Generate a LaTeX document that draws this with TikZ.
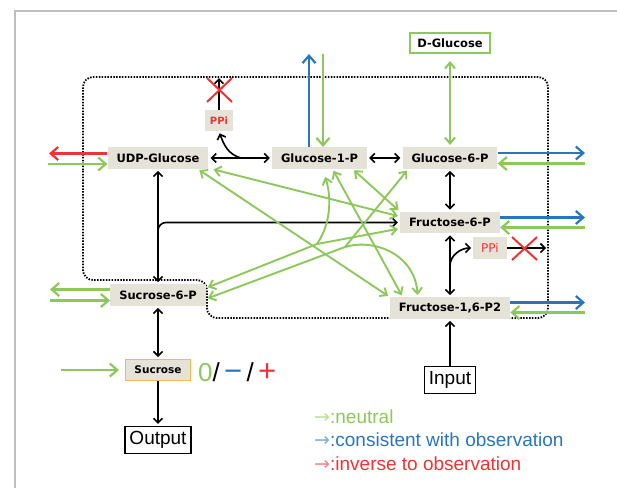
\documentclass[tikz,border=0pt]{standalone}
\usepackage{fontspec}
\newfontfamily\boxfont{DejaVu Sans}
\newfontfamily\labfont{Liberation Sans}
\usetikzlibrary{arrows.meta}
\definecolor{grn}{RGB}{140,200,90}
\definecolor{blu}{RGB}{40,118,190}
\definecolor{rd}{RGB}{236,52,52}
\definecolor{boxgray}{RGB}{229,226,216}
\definecolor{sucorange}{RGB}{246,186,80}
\definecolor{framegray}{RGB}{190,190,190}
\tikzset{
    tipS/.tip={Straight Barb[length=4.5pt,width=9pt]},
    tipM/.tip={Straight Barb[length=6pt,width=10pt]},
    tipL/.tip={Straight Barb[length=7.5pt,width=13pt]},
}
\tikzset{
    blk/.style={draw=black, line width=1.6pt, shorten >=2pt},
    blkboth/.style={blk, shorten <=2pt, tipS-tipS},
    blkone/.style={blk, -tipS},
    sidearr/.style={line width=2.2pt, -tipL},
    gside/.style={sidearr, draw=grn},
    bside/.style={sidearr, draw=blu},
    rside/.style={sidearr, draw=rd},
    gboth/.style={draw=grn, line width=1.9pt, tipM-tipM, shorten >=2pt, shorten <=2pt},
    gone/.style={draw=grn, line width=1.9pt, -tipM, shorten >=2pt},
    xmark/.style={draw=rd, line width=2pt},
}
\tikzset{
    met/.style={fill=boxgray, inner xsep=9pt, inner ysep=0pt, minimum height=21.5pt,
        font=\boxfont\bfseries\fontsize{11.5}{13}\selectfont},
    ppi/.style={fill=boxgray, text=rd, inner ysep=0pt, minimum height=21.5pt},
    io/.style={draw=black, line width=1.2pt, fill=white, inner xsep=4.5pt, inner ysep=0pt,
        minimum height=27pt, font=\labfont\fontsize{19}{21}\selectfont},
    legtext/.style={anchor=base west, inner sep=0pt, font=\labfont\fontsize{19}{22}\selectfont},
}
\begin{document}
\begin{tikzpicture}[x=1pt,y=1pt]
    \useasboundingbox (0,0) rectangle (617,-488);
    \draw[framegray, line width=1.2pt] (15,-488) -- (15,-11) -- (617,-11);
    % compartment
    \draw[line width=1.8pt, dash pattern=on 1.5pt off 1.4pt, rounded corners=10pt]
        (83,-180) -- (83,-77) -- (548,-77) -- (548,-318) -- (207,-318) -- (207,-280) -- (83,-280) -- cycle;
    \node[met] (udp) at (158,-158) {UDP-Glucose};
    \node[met] (g1p) at (319.5,-158) {Glucose-1-P};
    \node[met] (g6p) at (450,-158) {Glucose-6-P};
    \node[met] (f6p) at (450,-222.5) {Fructose-6-P};
    \node[met] (fbp) at (450,-308) {Fructose-1,6-P2};
    \node[met] (s6p) at (158,-295) {Sucrose-6-P};
    \node[ppi, inner xsep=5pt, font=\boxfont\bfseries\fontsize{10}{12}\selectfont] (ppa) at (219,-120.5) {PPi};
    \node[ppi, inner xsep=8pt, font=\boxfont\fontsize{12}{14}\selectfont] (ppb) at (490,-248) {PPi};
    \node[met, fill=white, draw=grn, line width=2pt, inner xsep=7.5pt, minimum height=20pt] (dglc) at (450,-43) {D-Glucose};
    \node[met, draw=sucorange, line width=1pt, minimum height=21pt,
        font=\boxfont\bfseries\fontsize{10.5}{12}\selectfont] (suc) at (158,-370) {Sucrose};
    \node[io] (inp) at (450,-380) {Input};
    \node[io] (outp) at (158,-440) {Output};
    \node[anchor=base west, inner sep=0pt, font=\labfont\fontsize{26}{28}\selectfont] (sgn) at (198,-381)
        {{\color{grn}0}/\,{\color{blu}\fontsize{31}{31}\selectfont −}\,/\,{\color{rd}\fontsize{31}{31}\selectfont +}};
    % branch points
    \coordinate (m1) at (241,-158);
    \coordinate (m2) at (450,-266);
    \coordinate (m3) at (158,-236);
    \coordinate (j1) at (317,-244);
    \coordinate (j2) at (345,-247);
    \coordinate (ppaT) at (219,-76);
    \coordinate (ppbR) at (548,-248);
    \coordinate (xa) at (219.5,-90);
    \coordinate (xb) at (524.5,-248.5);
    % free ends
    \coordinate (udpL1) at (49,-153.5);
    \coordinate (udpL2) at (48,-164);
    \coordinate (s6pL1) at (50,-289.5);
    \coordinate (s6pL2) at (50,-300.5);
    \coordinate (sucL) at (61,-370);
    \coordinate (g6pR1) at (585,-153);
    \coordinate (g6pR2) at (585,-163.5);
    \coordinate (f6pR1) at (585,-217.5);
    \coordinate (f6pR2) at (585,-227.5);
    \coordinate (fbpR1) at (585,-302.5);
    \coordinate (fbpR2) at (585,-312.5);
    \coordinate (g1pT1) at (309,-54);
    \coordinate (g1pT2) at (323,-54);
    % black reactions
    \draw[blkboth] (udp) -- (g1p);
    \draw[blkone] (m1) to[out=165,in=-70] (ppa.south);
    \draw[blkone] (ppa) -- (ppaT);
    \draw[blkboth] (g1p) -- (g6p);
    \draw[blkboth] (g6p) -- (f6p);
    \draw[blkboth] (f6p) -- (fbp);
    \draw[blkone] (m2) to[out=90,in=180] (ppb.west);
    \draw[blkone] (ppb) -- (ppbR);
    \draw[blkboth] (udp) -- (s6p);
    \draw[blkone, rounded corners=8pt] (m3) |- (f6p.west);
    \draw[blkboth] (s6p) -- (suc);
    \draw[blkone] (suc) -- (outp);
    \draw[blkone] (inp) -- (fbp);
    \draw[xmark] (xa) +(-12.5,12) -- +(12.5,-12) (xa) +(-12.5,-12) -- +(12.5,12);
    \draw[xmark] (xb) +(-12.5,11.5) -- +(12.5,-11.5) (xb) +(-12.5,-11.5) -- +(12.5,11.5);
    % exchange fluxes
    \draw[rside] (udp.west |- udpL1) -- (udpL1);
    \draw[gside] (udpL2) -- (udp.west |- udpL2);
    \draw[gside] (s6p.west |- s6pL1) -- (s6pL1);
    \draw[gside] (s6pL2) -- (s6p.west |- s6pL2);
    \draw[gside, shorten >=6pt] (sucL) -- (suc.west);
    \draw[bside] (g6p.east |- g6pR1) -- (g6pR1);
    \draw[gside] (g6pR2) -- (g6p.east |- g6pR2);
    \draw[bside] (f6p.east |- f6pR1) -- (f6pR1);
    \draw[gside] (f6pR2) -- (f6p.east |- f6pR2);
    \draw[bside] (fbp.east |- fbpR1) -- (fbpR1);
    \draw[gside] (fbpR2) -- (fbp.east |- fbpR2);
    \draw[bside] (g1pT1 |- g1p.north) -- (g1pT1);
    \draw[gside] (g1pT2) -- (g1pT2 |- g1p.north);
    \draw[gboth, line width=2pt, shorten <=7pt] (dglc) -- (g6p);
    % green reactions
    \draw[gboth] ([xshift=3pt]udp.south east) -- ([yshift=6pt]f6p.west);
    \draw[gboth] ([xshift=-11pt]udp.south east) -- (fbp.north west);
    \draw[gboth] ([xshift=13pt]g1p.south) -- ([xshift=13pt]fbp.north west);
    \draw[gboth] ([xshift=33pt]g1p.south) -- (f6p.north west);
    \draw[gboth] ([yshift=7pt]s6p.east) -- (j1) -- ([yshift=-6pt]f6p.west);
    \draw[gone] (j1) .. controls (332,-222) and (331,-195) .. ([xshift=5pt,yshift=-6pt]g1p.south);
    \draw[gboth] ([yshift=-4pt]s6p.east) -- (j2) -- ([xshift=6pt]g6p.south west);
    \draw[gone] (j2) .. controls (375,-238) and (415,-255) .. ([xshift=28pt]fbp.north west);
    % legend
    \node[legtext, text=grn] (lg1) at (314,-423) {{\boxfont\color{grn!60!white}→}:neutral};
    \node[legtext, text=blu] (lg2) at (314,-446.5) {{\boxfont\color{blu!60!white}→}:consistent with observation};
    \node[legtext, text=rd] (lg3) at (314,-470) {{\boxfont\color{rd!60!white}→}:inverse to observation};
\end{tikzpicture}
\end{document}
